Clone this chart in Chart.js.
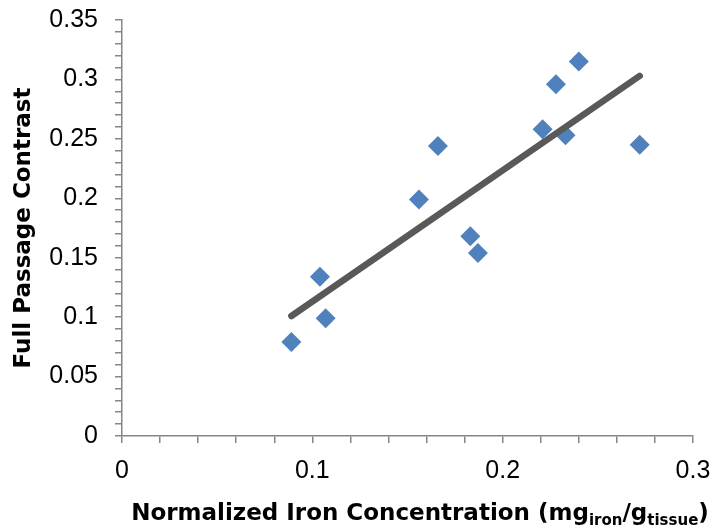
<!DOCTYPE html>
<html lang="en">
  <head>
    <meta charset="utf-8" />
    <title>Full Passage Contrast vs Iron</title>
    <script src="https://cdn.jsdelivr.net/npm/chart.js@4.4.1/dist/chart.umd.min.js"></script>
    <style>
      html, body { margin: 0; padding: 0; background: #fff; }
      .wrap { width: 713px; height: 529px; position: relative; }
    </style>
  </head>
  <body>
    <div class="wrap">
      <canvas id="scatterChart"></canvas>
    </div>
    <script>
      // measured samples
      const ironConc = [0.089, 0.104, 0.107, 0.156, 0.166, 0.183, 0.187, 0.221, 0.228, 0.233, 0.240, 0.272];
      const contrast = [0.079, 0.134, 0.099, 0.199, 0.244, 0.168, 0.154, 0.258, 0.296, 0.253, 0.315, 0.245];

      // linear trendline end points
      const trendX = [0.089, 0.272];
      const trendY = [0.101, 0.303];

      const tickFont = { family: "Liberation Sans", size: 25 };
      const titleFont = { family: "DejaVu Sans", size: 23, weight: "bold" };
      const axisGray = "#868686";

      // fixed axis box sizes, no extra room for overhanging labels
      function fixBox(size) {
        return (scale) => {
          if (scale.isHorizontal()) scale.height = size;
          else scale.width = size;
          scale.paddingTop = scale.paddingBottom = 0;
          scale.paddingLeft = scale.paddingRight = 0;
        };
      }

      // x axis title has subscripts, so it is drawn by hand
      const xTitle = {
        id: "xTitle",
        afterDraw(chart) {
          const ctx = chart.ctx;
          const parts = [
            ["Normalized Iron Concentration (mg", false],
            ["iron", true],
            ["/g", false],
            ["tissue", true],
            [")", false],
          ];
          const big = "bold 23px 'DejaVu Sans'";
          const small = "bold 15px 'DejaVu Sans'";
          ctx.save();
          ctx.fillStyle = "#000";
          ctx.textBaseline = "alphabetic";
          let total = 0;
          parts.forEach(([t, sub]) => {
            ctx.font = sub ? small : big;
            total += ctx.measureText(t).width;
          });
          let x = 420 - total / 2;
          const base = 520;
          parts.forEach(([t, sub]) => {
            ctx.font = sub ? small : big;
            ctx.fillText(t, x, sub ? base + 5 : base);
            x += ctx.measureText(t).width;
          });
          ctx.restore();
        },
      };

      const ctx = document.getElementById("scatterChart").getContext("2d");
      const chart = new Chart(ctx, {
        type: "scatter",
        data: {
          datasets: [
            {
              type: "line",
              label: "Trend",
              data: trendX.map((x, i) => ({ x: x, y: trendY[i] })),
              borderColor: "#595959",
              borderWidth: 6.5,
              borderCapStyle: "round",
              pointRadius: 0,
              fill: false,
              order: 0,
            },
            {
              label: "Samples",
              data: ironConc.map((x, i) => ({ x: x, y: contrast[i] })),
              pointStyle: "rectRot",
              pointRadius: 10,
              pointHoverRadius: 10,
              backgroundColor: "#4F81BD",
              borderColor: "#4F81BD",
              borderWidth: 0,
              order: 1,
            },
          ],
        },
        options: {
          responsive: true,
          maintainAspectRatio: false,
          animation: false,
          layout: { padding: { left: 0, top: 20, right: 20, bottom: 0 } },
          plugins: {
            legend: { display: false },
            tooltip: { enabled: false },
          },
          scales: {
            x: {
              type: "linear",
              min: 0,
              max: 0.3,
              border: { color: axisGray, width: 1.5 },
              grid: { drawOnChartArea: false, drawTicks: true, tickLength: 7, color: axisGray, lineWidth: 1.5 },
              ticks: {
                stepSize: 0.02,
                autoSkip: false,
                maxRotation: 0,
                padding: 13,
                color: "#000",
                font: tickFont,
                callback: (v) => (Math.round(v * 100) % 10 === 0 ? String(+v.toFixed(2)) : ""),
              },
              afterFit: fixBox(93),
            },
            y: {
              min: 0,
              max: 0.35,
              border: { color: axisGray, width: 1.5 },
              grid: { drawOnChartArea: false, drawTicks: true, tickLength: 7, color: axisGray, lineWidth: 1.5 },
              ticks: {
                stepSize: 0.01,
                autoSkip: false,
                padding: 17,
                color: "#000",
                font: tickFont,
                callback: (v) => (Math.round(v * 100) % 5 === 0 ? String(+v.toFixed(2)) : ""),
              },
              title: {
                display: true,
                text: "Full Passage Contrast",
                color: "#000",
                font: titleFont,
                padding: { top: 10, bottom: 0 },
              },
              afterFit: fixBox(122),
            },
          },
        },
        plugins: [xTitle],
      });
    </script>
  </body>
</html>
